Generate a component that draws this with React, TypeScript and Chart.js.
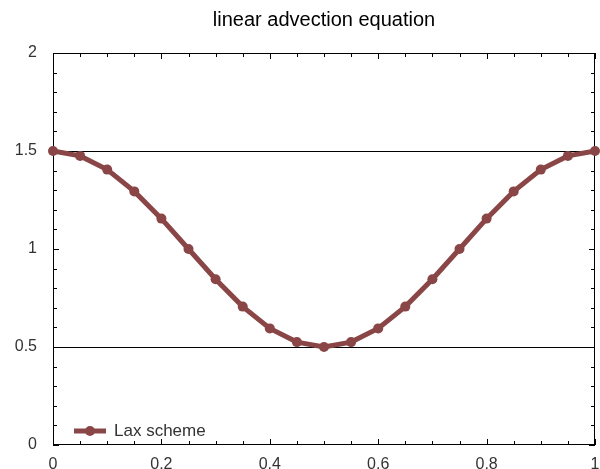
import React, { useEffect, useRef } from 'react';
import { Chart, registerables } from 'chart.js';

Chart.register(...registerables);

const TITLE = 'linear advection equation';
const SERIES_LABEL = 'Lax scheme';

const xValues = [0, 0.05, 0.1, 0.15, 0.2, 0.25, 0.3, 0.35, 0.4, 0.45, 0.5, 0.55, 0.6, 0.65, 0.7, 0.75, 0.8, 0.85, 0.9, 0.95, 1];
const laxValues = [1.5, 1.475, 1.405, 1.294, 1.155, 1.0, 0.846, 0.706, 0.595, 0.525, 0.5, 0.525, 0.595, 0.706, 0.846, 1.0, 1.155, 1.294, 1.405, 1.475, 1.5];

const xMajorTicks = [0, 0.2, 0.4, 0.6, 0.8, 1];
const yMajorTicks = [0, 0.5, 1, 1.5, 2];
const referenceLines = [0.5, 1.5];

const LINE_COLOR = '#8a4646';
const TEXT_COLOR = '#333333';
const FONT = 'Liberation Sans';

const framePlugin = {
  id: 'gnuFrame',
  beforeDatasetsDraw(chart: any) {
    const { ctx, chartArea: a, scales } = chart;
    const xs = scales.x;
    const ys = scales.y;
    ctx.save();
    ctx.strokeStyle = '#000';
    ctx.lineWidth = 1;
    ctx.beginPath();
    referenceLines.forEach((v) => {
      const y = Math.round(ys.getPixelForValue(v)) + 0.5;
      ctx.moveTo(a.left, y);
      ctx.lineTo(a.right, y);
    });
    ctx.stroke();
    ctx.strokeRect(a.left + 0.5, a.top + 0.5, a.right - a.left - 1, a.bottom - a.top - 1);
    ctx.beginPath();
    for (let i = 0; i <= 20; i++) {
      const v = i * 0.05;
      const isMajor = xMajorTicks.some((t) => Math.abs(t - v) < 1e-9);
      const len = isMajor ? 6 : 4;
      const x = Math.round(xs.getPixelForValue(v)) + 0.5;
      ctx.moveTo(x, a.bottom);
      ctx.lineTo(x, a.bottom - len);
      ctx.moveTo(x, a.top);
      ctx.lineTo(x, a.top + len);
    }
    for (let i = 0; i <= 20; i++) {
      const v = i * 0.1;
      const isMajor = yMajorTicks.some((t) => Math.abs(t - v) < 1e-9);
      const len = isMajor ? 6 : 4;
      const y = Math.round(ys.getPixelForValue(v)) + 0.5;
      ctx.moveTo(a.left, y);
      ctx.lineTo(a.left + len, y);
      ctx.moveTo(a.right, y);
      ctx.lineTo(a.right - len, y);
    }
    ctx.stroke();
    ctx.restore();
  },
  afterDraw(chart: any) {
    const { ctx, chartArea: a } = chart;
    const ds = chart.data.datasets[0];
    ctx.save();
    ctx.fillStyle = '#000';
    ctx.font = `20px "${FONT}"`;
    ctx.textAlign = 'center';
    ctx.textBaseline = 'middle';
    ctx.fillText(TITLE, (a.left + a.right) / 2, a.top - 33);
    const lx = a.left + 21;
    const ly = a.bottom - 14;
    ctx.strokeStyle = ds.borderColor;
    ctx.lineWidth = 5;
    ctx.beginPath();
    ctx.moveTo(lx, ly);
    ctx.lineTo(lx + 32, ly);
    ctx.stroke();
    ctx.fillStyle = ds.borderColor;
    ctx.beginPath();
    ctx.arc(lx + 16, ly, 5, 0, Math.PI * 2);
    ctx.fill();
    ctx.fillStyle = TEXT_COLOR;
    ctx.font = `17px "${FONT}"`;
    ctx.textBaseline = 'middle';
    ctx.textAlign = 'left';
    ctx.fillText(ds.label, lx + 40, ly);
    ctx.restore();
  },
};

const fmt = (v: any) => String(Math.round(Number(v) * 10) / 10);

export default function App() {
  const ref = useRef<HTMLCanvasElement | null>(null);
  useEffect(() => {
    if (!ref.current) return;
    const chart = new Chart(ref.current, {
      type: 'line',
      data: {
        labels: xValues,
        datasets: [
          {
            label: SERIES_LABEL,
            data: xValues.map((x, i) => ({ x, y: laxValues[i] })),
            borderColor: LINE_COLOR,
            backgroundColor: LINE_COLOR,
            borderWidth: 5,
            pointRadius: 5,
            pointBorderWidth: 0,
            pointBackgroundColor: LINE_COLOR,
            tension: 0,
            clip: false as any,
          },
        ],
      },
      options: {
        animation: false,
        responsive: false,
        maintainAspectRatio: false,
        layout: { padding: { left: 0, right: 0, top: 53, bottom: 0 } },
        plugins: {
          legend: { display: false },
          tooltip: { enabled: false },
          title: { display: false },
        },
        scales: {
          x: {
            type: 'linear',
            min: 0,
            max: 1,
            grid: { display: false, drawTicks: false },
            border: { display: false },
            ticks: {
              stepSize: 0.2,
              autoSkip: false,
              maxRotation: 0,
              padding: 10,
              color: TEXT_COLOR,
              font: { family: FONT, size: 16 },
              callback: fmt,
            },
            afterFit: (s: any) => {
              s.height = 24;
              s.paddingLeft = 0;
              s.paddingRight = 0;
            },
          },
          y: {
            type: 'linear',
            min: 0,
            max: 2,
            grid: { display: false, drawTicks: false },
            border: { display: false },
            ticks: {
              stepSize: 0.5,
              autoSkip: false,
              padding: 16,
              color: TEXT_COLOR,
              font: { family: FONT, size: 16 },
              callback: fmt,
            },
            afterFit: (s: any) => {
              s.width = 53;
              s.paddingTop = 0;
              s.paddingBottom = 0;
            },
          },
        },
      },
      plugins: [framePlugin],
    });
    return () => chart.destroy();
  }, []);
  return (
    <div style={{ position: 'fixed', left: 0, top: 0, width: 600, height: 469, background: '#fff' }}>
      <canvas ref={ref} width={600} height={469} style={{ display: 'block' }} />
    </div>
  );
}
